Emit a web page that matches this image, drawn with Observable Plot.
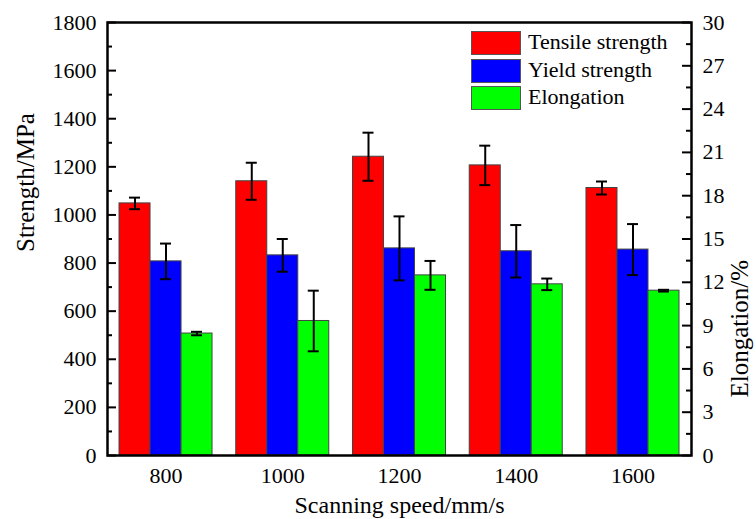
<!DOCTYPE html>
<html>
<head>
<meta charset="utf-8">
<script src="https://cdn.jsdelivr.net/npm/d3@7"></script>
<script src="https://cdn.jsdelivr.net/npm/@observablehq/plot@0.6"></script>
<style>
  body { margin: 0; background: #fff; }
  #wrap { position: relative; width: 756px; height: 519px; font-family: "Liberation Serif", Tinos, "Times New Roman", serif; }
  #wrap svg, #wrap svg text { font-family: "Liberation Serif", Tinos, "Times New Roman", serif !important; }
  .leg { position: absolute; left: 471px; font-size: 22px; color: #000; }
  .leg .row { position: absolute; left: 0; height: 24px; white-space: nowrap; }
  .leg .sw { position: absolute; left: 0; top: 0; width: 48px; height: 22px; border: 1px solid #555; }
  .leg .tx { position: absolute; left: 57px; top: -3px; line-height: 28px; }
</style>
</head>
<body>
<div id="wrap"></div>
<script>
const speeds = [800, 1000, 1200, 1400, 1600];
const tensile = [1048, 1140, 1242, 1206, 1112];
const tensileErr = [24, 77, 100, 82, 27];
const yieldStr = [807, 832, 861, 849, 856];
const yieldErr = [74, 68, 133, 109, 106];
const elongation = [8.45, 9.32, 12.48, 11.86, 11.42];
const elongationErr = [0.12, 2.1, 1.0, 0.4, 0.06];
const seriesNames = ["Tensile strength", "Yield strength", "Elongation"];
const seriesColors = ["#ff0000", "#0000ff", "#00ff00"];
const leftTicks = [0, 200, 400, 600, 800, 1000, 1200, 1400, 1600, 1800];
const rightTicks = [0, 3, 6, 9, 12, 15, 18, 21, 24, 27, 30];

const k = 1800 / 30; // elongation % -> strength scale units
const rows = speeds.map((s, i) => ({
  speed: s,
  t: tensile[i], te: tensileErr[i],
  y: yieldStr[i], ye: yieldErr[i],
  e: elongation[i] * k, ee: elongationErr[i] * k
}));

const W = 31; // bar width in px (band)
const font = "'Liberation Serif', Tinos, 'Times New Roman', serif";
const ML = 107, MR = 65, plotW = 756 - ML - MR;

const minorLeft = d3.range(100, 1800, 200);
const minorRight = d3.range(1.5, 30, 3);

function errMarks(v, e, dx) {
  return [
    Plot.ruleX(rows, {x: "speed", y1: d => d[v] - d[e], y2: d => d[v] + d[e], dx, stroke: "#000", strokeWidth: 2}),
    Plot.tickY(rows, {x: "speed", y: d => d[v] + d[e], dx, insetLeft: 10, insetRight: 10, stroke: "#000", strokeWidth: 2}),
    Plot.tickY(rows, {x: "speed", y: d => d[v] - d[e], dx, insetLeft: 10, insetRight: 10, stroke: "#000", strokeWidth: 2})
  ];
}

const chart = Plot.plot({
  width: 756,
  height: 519,
  marginLeft: ML,
  marginRight: MR,
  marginTop: 22,
  marginBottom: 64,
  style: {fontFamily: font, fontSize: "22px", color: "#000", background: "#fff"},
  x: {type: "band", domain: speeds, paddingInner: 1 - W / 116.7, paddingOuter: 0.3685, align: 0.5, round: false, axis: null},
  y: {domain: [0, 1800], axis: null},
  marks: [
    Plot.barY(rows, {x: "speed", y: "t", dx: -W, fill: seriesColors[0], stroke: "#444", strokeWidth: 1}),
    Plot.barY(rows, {x: "speed", y: "y", fill: seriesColors[1], stroke: "#444", strokeWidth: 1}),
    Plot.barY(rows, {x: "speed", y: "e", dx: W, fill: seriesColors[2], stroke: "#444", strokeWidth: 1}),
    ...errMarks("t", "te", -W),
    ...errMarks("y", "ye", 0),
    ...errMarks("e", "ee", W),
    // left ticks (inward)
    Plot.tickY(leftTicks, {y: d => d, insetRight: plotW - 9, stroke: "#000", strokeWidth: 2}),
    Plot.tickY(minorLeft, {y: d => d, insetRight: plotW - 5, stroke: "#000", strokeWidth: 2}),
    // right ticks (inward)
    Plot.tickY(rightTicks, {y: d => d * k, insetLeft: plotW - 9, stroke: "#000", strokeWidth: 2}),
    Plot.tickY(minorRight, {y: d => d * k, insetLeft: plotW - 5, stroke: "#000", strokeWidth: 2}),
    Plot.axisY(leftTicks, {anchor: "left", tickSize: 0, tickPadding: 11, fontSize: 22, tickFormat: d => String(d), label: null}),
    Plot.axisY(rightTicks.map(d => d * k), {anchor: "right", tickSize: 0, tickPadding: 11, fontSize: 22, tickFormat: d => String(Math.round(d / k)), label: null}),
    Plot.axisX(speeds, {anchor: "bottom", tickSize: 0, tickPadding: 12, fontSize: 22, tickFormat: d => String(d), label: null}),
    Plot.frame({stroke: "#000", strokeWidth: 2.5}),
    Plot.text(["Strength/MPa"], {frameAnchor: "left", dx: -82, dy: 13, rotate: -90, fontSize: 25, text: d => d}),
    Plot.text(["Elongation/%"], {frameAnchor: "right", dx: 48, dy: 21, rotate: -90, fontSize: 25, text: d => d}),
    Plot.text(["Scanning speed/mm/s"], {frameAnchor: "bottom", dy: 57, fontSize: 24, text: d => d})
  ]
});

const wrap = document.getElementById("wrap");
wrap.appendChild(chart);

const leg = document.createElement("div");
leg.className = "leg";
leg.style.top = "31px";
seriesNames.forEach((name, i) => {
  const row = document.createElement("div");
  row.className = "row";
  row.style.top = (i * 27.5) + "px";
  const sw = document.createElement("div");
  sw.className = "sw";
  sw.style.background = seriesColors[i];
  const tx = document.createElement("div");
  tx.className = "tx";
  tx.textContent = name;
  row.appendChild(sw);
  row.appendChild(tx);
  leg.appendChild(row);
});
wrap.appendChild(leg);
</script>
</body>
</html>
